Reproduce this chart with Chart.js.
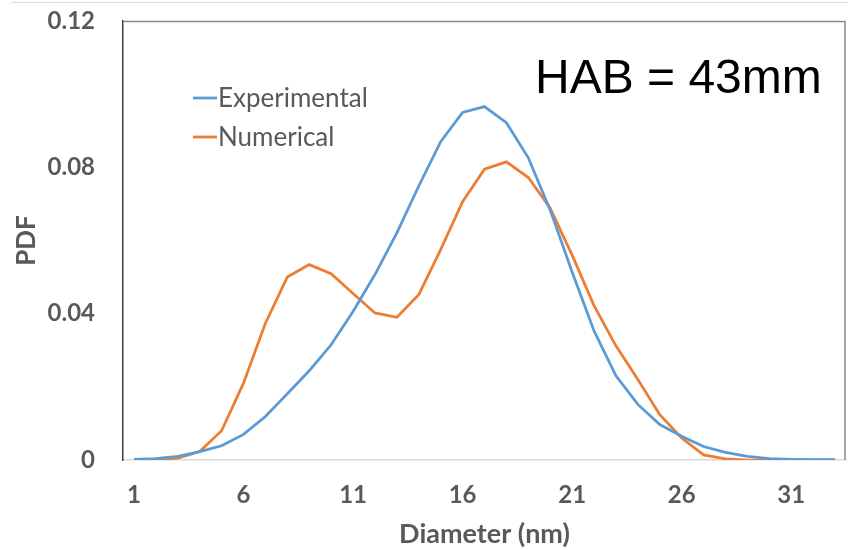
<!DOCTYPE html>
<html>
<head>
<meta charset="utf-8">
<script src="https://cdn.jsdelivr.net/npm/chart.js@4.4.0/dist/chart.umd.min.js"></script>
<style>
  html, body { margin: 0; padding: 0; background: #fff; }
  #wrap { width: 848px; height: 550px; }
</style>
</head>
<body>
<div id="wrap"><canvas id="pdfChart" width="848" height="550"></canvas></div>
<script>
// Diameter bins (nm)
const diameters = [1, 2, 3, 4, 5, 6, 7, 8, 9, 10, 11, 12, 13, 14, 15, 16, 17,
  18, 19, 20, 21, 22, 23, 24, 25, 26, 27, 28, 29, 30, 31, 32, 33];

const experimental = [0.0002, 0.0004, 0.001, 0.0023, 0.0039, 0.007, 0.0119, 0.0181,
  0.0244, 0.0315, 0.0406, 0.0507, 0.0621, 0.0749, 0.087, 0.095, 0.0966, 0.0922,
  0.0826, 0.0683, 0.0514, 0.0353, 0.023, 0.0152, 0.0097, 0.0065, 0.0037, 0.0021,
  0.001, 0.0004, 0.0002, 0.0001, 0.0001];

const numerical = [0, 0, 0.0005, 0.0023, 0.008, 0.021, 0.0374, 0.05, 0.0534, 0.0509,
  0.0455, 0.0402, 0.039, 0.0452, 0.0575, 0.0706, 0.0795, 0.0815, 0.0772, 0.0688,
  0.056, 0.0422, 0.0312, 0.022, 0.0124, 0.006, 0.0014, 0.0003, 0, 0, 0, 0, 0];

const yTicks = [0, 0.04, 0.08, 0.12];
const xTickEvery = 5;

const grey = "#595959";

// frame, legend and the HAB note
const decorations = {
  id: "decorations",
  beforeDraw: (chart) => {
    const ctx = chart.ctx;
    ctx.save();
    ctx.strokeStyle = "#dcdcdc";
    ctx.lineWidth = 1;
    ctx.beginPath();
    ctx.moveTo(11, 2.5);
    ctx.lineTo(848, 2.5);
    ctx.stroke();
    ctx.restore();
  },
  afterDraw: (chart) => {
    const ctx = chart.ctx;
    const a = chart.chartArea;
    ctx.save();
    // top and right border of the plot box
    ctx.strokeStyle = "#8a8a8a";
    ctx.lineWidth = 1.5;
    ctx.beginPath();
    ctx.moveTo(a.left, a.top + 0.5);
    ctx.lineTo(a.right - 1, a.top + 0.5);
    ctx.lineTo(a.right - 1, a.bottom);
    ctx.stroke();

    // legend
    chart.data.datasets.forEach((ds, i) => {
      const y = 98 + i * 39;
      ctx.strokeStyle = ds.borderColor;
      ctx.lineWidth = 2.75;
      ctx.beginPath();
      ctx.moveTo(193, y);
      ctx.lineTo(217, y);
      ctx.stroke();
      ctx.fillStyle = grey;
      ctx.font = "26px Lato";
      ctx.textBaseline = "middle";
      ctx.textAlign = "left";
      ctx.fillText(ds.label, 218, y + 1);
    });

    // HAB note
    ctx.fillStyle = "#000";
    ctx.font = "48px 'Liberation Sans'";
    ctx.textBaseline = "alphabetic";
    ctx.fillText("HAB = 43mm", 535, 93);
    ctx.restore();
  },
};

new Chart(document.getElementById("pdfChart"), {
  type: "line",
  data: {
    labels: diameters.map(String),
    datasets: [
      {
        label: "Experimental",
        data: experimental,
        borderColor: "#5B9BD5",
        borderWidth: 2.75,
        pointRadius: 0,
        tension: 0,
        fill: false,
      },
      {
        label: "Numerical",
        data: numerical,
        borderColor: "#ED7D31",
        borderWidth: 2.75,
        pointRadius: 0,
        tension: 0,
        fill: false,
      },
    ],
  },
  options: {
    responsive: false,
    animation: false,
    layout: { padding: { top: 21, right: 2, left: 0, bottom: 0 } },
    plugins: {
      legend: { display: false },
      tooltip: { enabled: false },
    },
    scales: {
      x: {
        type: "category",
        offset: true,
        grid: { display: false, drawTicks: false },
        border: { display: true, color: "#d9d9d9", width: 1.5 },
        ticks: {
          autoSkip: false,
          maxRotation: 0,
          padding: 21,
          color: grey,
          font: { family: "Lato", size: 24, weight: "bold" },
          callback: function (value, index) {
            return index % xTickEvery === 0 ? diameters[index] : "";
          },
        },
        title: {
          display: true,
          text: "Diameter (nm)",
          color: grey,
          font: { family: "Lato", size: 27, weight: "bold" },
          padding: { top: 2, bottom: 0 },
        },
        afterFit: (scale) => {
          scale.height = 90;
          scale.paddingLeft = 0;
          scale.paddingRight = 0;
        },
      },
      y: {
        min: 0,
        max: 0.12,
        afterBuildTicks: (scale) => {
          scale.ticks = yTicks.map((v) => ({ value: v }));
        },
        grid: { display: false, drawTicks: false },
        border: { display: true, color: "#404040", width: 1.5 },
        ticks: {
          padding: 28,
          color: grey,
          font: { family: "Lato", size: 24, weight: "bold" },
          callback: (v) => String(v),
        },
        title: {
          display: true,
          text: "PDF",
          color: grey,
          font: { family: "Lato", size: 26, weight: "bold" },
          padding: { top: 11, bottom: 0 },
        },
        afterFit: (scale) => {
          scale.width = 123;
          scale.paddingTop = 0;
          scale.paddingBottom = 0;
        },
      },
    },
  },
  plugins: [decorations],
});
</script>
</body>
</html>
